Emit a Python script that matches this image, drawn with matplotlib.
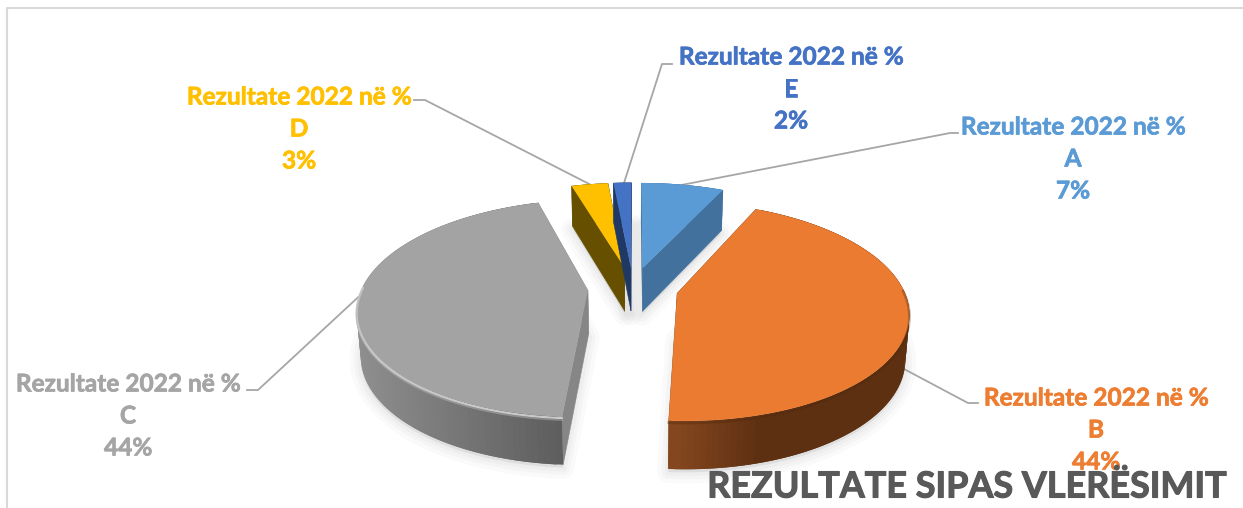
import numpy as np
import matplotlib
matplotlib.use("Agg")
import matplotlib.pyplot as plt
import matplotlib.patheffects as pe

# vlerat e lexuara nga figura (para rrumbullakimit)
categories = ['A', 'B', 'C', 'D', 'E']
percent = [7.0, 44.0, 44.4, 3.1, 1.5]
series_name = 'Rezultate 2022 në %'
chart_title = 'REZULTATE SIPAS VLERËSIMIT'

top_colors = ['#5B9BD5', '#EA7B30', '#A3A3A3', '#FFC000', '#4472C4']
side_colors = ['#41719C', '#8A4A20', '#868686', '#665000', '#1F3864']
rim_left = ['#41719C', '#8A4A20', '#8F8F8F', '#665000', '#1F3864']
rim_right = ['#41719C', '#5E3012', '#5E5E5E', '#665000', '#1F3864']

# gjeometria e pamjes 3D
X0, Y0 = 633, 288
RX, RY = 226, 105
PERSP = 0.163
EXPLODE = 0.2
DEPTH = 44
BOTTOM_SCALE = 0.985


def project(u, v, bottom=False):
    u = np.asarray(u, dtype=float)
    v = np.asarray(v, dtype=float)
    w = 1 + PERSP * v
    x = X0 + RX * u / w
    y = Y0 - RY * v / w
    if bottom:
        x = X0 + (x - X0) * BOTTOM_SCALE
        y = y + DEPTH / np.sqrt(w)
    return x, y


def hex_mix(c1, c2, f):
    a = np.array(matplotlib.colors.to_rgb(c1))
    b = np.array(matplotlib.colors.to_rgb(c2))
    return tuple(a + (b - a) * f)


edges = np.concatenate([[0], np.cumsum(percent)]) * 3.6
wedges = []
for i in range(len(percent)):
    mid = np.radians((edges[i] + edges[i + 1]) / 2)
    t = np.radians(np.linspace(edges[i], edges[i + 1], 120))
    wedges.append({
        'du': EXPLODE * np.sin(mid),
        'dv': EXPLODE * np.cos(mid),
        't': t,
    })


def rim(i, bottom=False):
    w = wedges[i]
    return project(np.sin(w['t']) + w['du'], np.cos(w['t']) + w['dv'], bottom)


def apex(i, bottom=False):
    w = wedges[i]
    return project(w['du'], w['dv'], bottom)


def rim_point(i, frac, bottom=False):
    w = wedges[i]
    t = w['t'][0] + (w['t'][-1] - w['t'][0]) * frac
    return project(np.sin(t) + w['du'], np.cos(t) + w['dv'], bottom)


fig = plt.figure(figsize=(12.43, 5.08), dpi=100)
ax = fig.add_axes([0, 0, 1, 1])
ax.set_xlim(0, 1243)
ax.set_ylim(508, 0)
ax.axis('off')

plt.rcParams['font.family'] = ['Lato', 'DejaVu Sans']

# korniza e grafikut
ax.plot([7, 7, 1243], [508, 8, 8], color='#D9D9D9', lw=1.5, zorder=1)

# hija e butë poshtë pjesëve
for i in range(len(percent)):
    ax_, ay_ = apex(i, True)
    rx_, ry_ = rim(i, True)
    xs = np.r_[ax_, rx_]
    ys = np.r_[ay_, ry_] + 3
    for lw, alpha in [(16, 0.035), (10, 0.045), (5, 0.05)]:
        ax.fill(xs, ys, facecolor='#808080', edgecolor='#808080', lw=lw,
                alpha=alpha, joinstyle='round', zorder=2)

# rendi i vizatimit: pjesët e pasme para, të përparmet pas
for n, i in enumerate([3, 4, 0, 2, 1]):
    z = 3 + n
    tx, ty = rim(i)
    bx, by = rim(i, True)
    atx, aty = apex(i)
    abx, aby = apex(i, True)

    # muret radiale
    ax.fill([atx, tx[0], bx[0], abx], [aty, ty[0], by[0], aby],
            color=side_colors[i], lw=0.3, zorder=z)
    ax.fill([atx, tx[-1], bx[-1], abx], [aty, ty[-1], by[-1], aby],
            color=side_colors[i], lw=0.3, zorder=z)

    # muri i jashtëm me gradient; çdo copë mbulon edhe fqinjën që të mos dalin vija
    x_min, x_max = tx.min(), tx.max()
    order = range(len(tx) - 2) if tx[0] > tx[-1] else range(len(tx) - 3, -1, -1)
    for k in order:
        f = (tx[k] - x_min) / (x_max - x_min)
        if i == 1:
            # portokallia: e çelët majtas, e errët nga mesi djathtas
            f = min(1.0, f * 2.6)
        c = hex_mix(rim_left[i], rim_right[i], f)
        ax.fill([tx[k], tx[k + 2], bx[k + 2], bx[k]],
                [ty[k], ty[k + 2], by[k + 2], by[k]],
                color=c, lw=0, zorder=z)

    # faqja e sipërme
    ax.fill(np.r_[atx, tx], np.r_[aty, ty], color=top_colors[i], lw=0, zorder=z)

    # bevel i hollë në buzën e përparme
    front = np.cos(wedges[i]['t']) < 0.05
    if i == 2:
        ax.plot(tx[front], ty[front] + 1.5, color='#C9C9C9', lw=1.6, zorder=z,
                solid_capstyle='round')
        ax.plot(tx[front], ty[front] + 3.5, color='#B5B5B5', lw=1.2, alpha=0.5, zorder=z)
    if i == 1:
        ax.plot(tx[front], ty[front] + 2, color='#4A2509', lw=2, alpha=0.3, zorder=z)

# vijat udhëzuese: nga buza e pjesës te etiketa
leader_color = '#A6A6A6'
leaders = {
    0: (0.5, False, [(950, 133), (958, 133)]),
    1: (0.51, True, [(968, 403), (978, 403)]),
    2: (0.52, False, [(258, 390), (247, 390)]),
    3: (0.5, False, [(425, 100), (414, 100)]),
    4: (0.6, False, [(662, 64), (672, 64)]),
}
for i, (frac, low, pts) in leaders.items():
    sx, sy = rim_point(i, frac, low)
    ax.plot([sx] + [p[0] for p in pts], [sy] + [p[1] for p in pts],
            color=leader_color, lw=1.3, zorder=2.5)

# etiketat
label_pos = [(1073, 126), (1096, 397), (128, 383), (299, 96), (791, 56)]
label_colors = ['#5B9BD5', '#ED7D31', '#A5A5A5', '#FFC000', '#4472C4']
line_step = 32
for i, cat in enumerate(categories):
    lx, ly = label_pos[i]
    lines = [series_name, cat, f'{round(percent[i])}%']
    for j, line in enumerate(lines):
        txt = ax.text(lx, ly + j * line_step + 1, line, color=label_colors[i], fontsize=17.6,
                      fontweight='bold', ha='center', va='center', zorder=20)
        txt.set_path_effects([pe.withStroke(linewidth=0.5, foreground=label_colors[i])])

title = ax.text(967, 487, chart_title, color='#595959', fontsize=25.9, fontweight='bold',
                ha='center', va='center', zorder=21)
title.set_path_effects([pe.withStroke(linewidth=0.8, foreground='#595959')])

plt.savefig('out.png', dpi=100)
